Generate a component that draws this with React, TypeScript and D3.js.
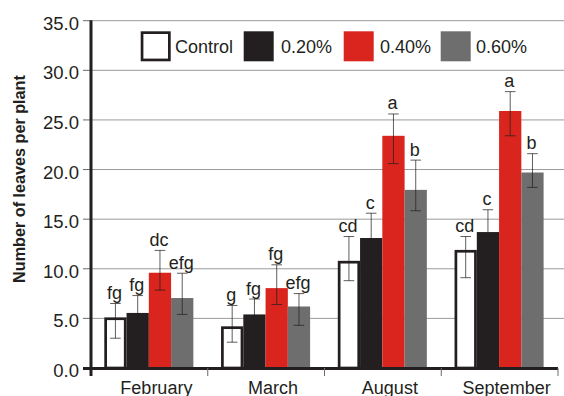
import React from "react";
import * as d3 from "d3";

// Months sampled
const categories = ["February", "March", "August", "September"];
// Treatments
const series = ["Control", "0.20%", "0.40%", "0.60%"];

// Mean number of leaves per plant, one array per treatment (by month)
const controlMeans = [5.1, 4.2, 10.8, 11.9];
const p20Means = [5.55, 5.4, 13.1, 13.7];
const p40Means = [9.6, 8.05, 23.4, 25.9];
const p60Means = [7.05, 6.2, 17.95, 19.7];

// Error bar upper ends
const controlHigh = [6.5, 6.3, 13.25, 13.25];
const p20High = [7.3, 6.95, 15.6, 15.95];
const p40High = [11.85, 10.4, 25.6, 27.85];
const p60High = [9.55, 7.5, 20.95, 21.6];

// Error bar lower ends
const controlLow = [3.0, 2.6, 8.8, 9.1];
const p20Low = [3.8, 3.85, 10.6, 11.45];
const p40Low = [7.85, 6.4, 20.6, 23.4];
const p60Low = [5.4, 4.3, 15.85, 18.2];

// Significance letters
const controlLetters = ["fg", "g", "cd", "cd"];
const p20Letters = ["fg", "fg", "c", "c"];
const p40Letters = ["dc", "fg", "a", "a"];
const p60Letters = ["efg", "efg", "b", "b"];

const yTicks = [0, 5, 10, 15, 20, 25, 30, 35];

const means = [controlMeans, p20Means, p40Means, p60Means];
const highs = [controlHigh, p20High, p40High, p60High];
const lows = [controlLow, p20Low, p40Low, p60Low];
const letters = [controlLetters, p20Letters, p40Letters, p60Letters];

const INK = "#231f20";
const fills = ["#ffffff", "#231f20", "#d9251d", "#6e6e6e"];
const FONT = "'Liberation Sans', Arial, Helvetica, sans-serif";

export default function App() {
  const W = 564;
  const H = 396;
  const left = 91;
  const right = 558;
  const top = 20.7;
  const bottom = 368;

  const y = d3.scaleLinear().domain([0, 35]).range([bottom, top]);
  const x0 = d3.scaleBand<string>().domain(categories).range([left, right]).padding(0);
  const bw = x0.bandwidth();
  const x1 = d3.scaleBand<string>().domain(series).range([13.3, bw - 14.4]).padding(0);
  const barW = x1.bandwidth();

  const cap = 5.3;
  const ctrlStroke = 2.7;

  const bars: React.ReactNode[] = [];
  const errs: React.ReactNode[] = [];
  const labels: React.ReactNode[] = [];

  categories.forEach((cat, ci) => {
    series.forEach((s, si) => {
      const v = means[si][ci];
      const bx = (x0(cat) as number) + (x1(s) as number);
      const by = y(v);
      const cx = bx + barW / 2;
      if (si === 0) {
        bars.push(
          <rect
            key={`b-${ci}-${si}`}
            x={bx + ctrlStroke / 2}
            y={by + ctrlStroke / 2}
            width={barW - ctrlStroke}
            height={y(0) - by - ctrlStroke / 2}
            fill={fills[si]}
            stroke={INK}
            strokeWidth={ctrlStroke}
          />
        );
      } else {
        bars.push(
          <rect
            key={`b-${ci}-${si}`}
            x={bx}
            y={by}
            width={barW}
            height={y(0) - by}
            fill={fills[si]}
          />
        );
      }
      const hi = y(highs[si][ci]);
      const lo = y(lows[si][ci]);
      errs.push(
        <g key={`e-${ci}-${si}`} stroke={INK} strokeOpacity={0.72} strokeWidth={1}>
          <line x1={cx} x2={cx} y1={hi} y2={lo} />
          <line x1={cx - cap} x2={cx + cap} y1={hi} y2={hi} />
          <line x1={cx - cap} x2={cx + cap} y1={lo} y2={lo} />
        </g>
      );
      labels.push(
        <text
          key={`l-${ci}-${si}`}
          x={cx - 1}
          y={hi - 4.5}
          textAnchor="middle"
          fontSize={18}
          fill={INK}
        >
          {letters[si][ci]}
        </text>
      );
    });
  });

  const legendX = [140.7, 243.7, 343.7, 440.7];
  const legendTextX = [175, 281, 380, 476];

  return (
    <svg
      width={W}
      height={H}
      style={{ position: "absolute", left: 0, top: 0, background: "#fff" }}
      fontFamily={FONT}
    >
      <rect width={W} height={H} fill="#fff" />

      {/* horizontal gridlines */}
      {yTicks.filter((t) => t > 0).map((t) => (
        <line key={`g-${t}`} x1={left} x2={W} y1={y(t)} y2={y(t)} stroke="#9a9a9a" strokeWidth={1} />
      ))}

      {/* y tick marks and labels */}
      {yTicks.map((t) => (
        <g key={`yt-${t}`}>
          <line x1={83} x2={left} y1={y(t)} y2={y(t)} stroke="#6a6a6a" strokeWidth={1} />
          <text x={79} y={y(t) + 9} textAnchor="end" fontSize={18.5} fill={INK}>
            {t.toFixed(1)}
          </text>
        </g>
      ))}

      {bars}
      {errs}
      {labels}

      {/* axes */}
      <line x1={83} x2={right} y1={bottom + 0.5} y2={bottom + 0.5} stroke={INK} strokeWidth={3} />
      <line x1={left} x2={left} y1={top - 0.5} y2={376} stroke={INK} strokeWidth={3} />
      {categories.map((c, i) => (
        <line
          key={`xt-${i}`}
          x1={(x0(c) as number) + bw}
          x2={(x0(c) as number) + bw}
          y1={bottom}
          y2={376}
          stroke="#6a6a6a"
          strokeWidth={1}
        />
      ))}
      {categories.map((c) => (
        <text
          key={`xl-${c}`}
          x={(x0(c) as number) + bw / 2 + 7}
          y={393.5}
          textAnchor="middle"
          fontSize={18}
          fill={INK}
        >
          {c}
        </text>
      ))}

      {/* y axis title */}
      <text
        transform={`translate(24.5, 179) rotate(-90)`}
        textAnchor="middle"
        fontSize={16.2}
        fontWeight="bold"
        fill={INK}
      >
        Number of leaves per plant
      </text>

      {/* legend */}
      {series.map((s, i) => (
        <g key={`lg-${s}`}>
          {i === 0 ? (
            <rect
              x={legendX[i] + ctrlStroke / 2}
              y={31.3 + ctrlStroke / 2}
              width={30 - ctrlStroke}
              height={30 - ctrlStroke}
              fill="#fff"
              stroke={INK}
              strokeWidth={ctrlStroke}
            />
          ) : (
            <rect x={legendX[i]} y={31.3} width={30} height={30} fill={fills[i]} />
          )}
          <text x={legendTextX[i]} y={53.3} fontSize={18} fill={INK}>
            {s}
          </text>
        </g>
      ))}
    </svg>
  );
}
